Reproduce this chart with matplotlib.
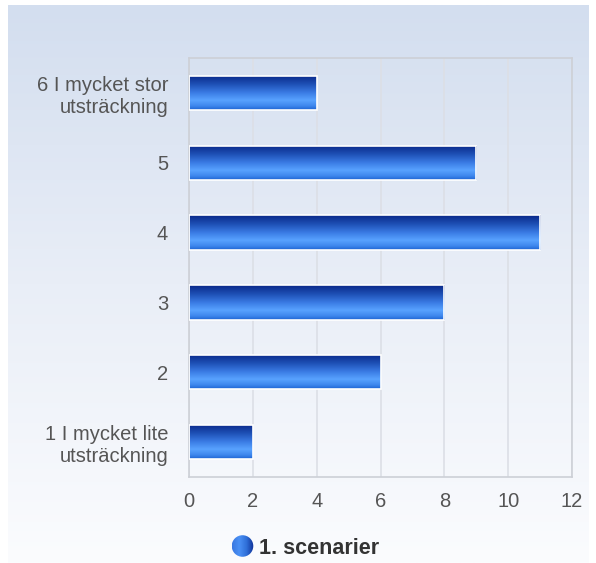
import numpy as np
import matplotlib
matplotlib.use("Agg")
import matplotlib.pyplot as plt
from matplotlib.colors import LinearSegmentedColormap
from matplotlib.patches import Circle

categories = ["1 I mycket lite\nutsträckning", "2", "3", "4", "5", "6 I mycket stor\nutsträckning"]
values = [2, 6, 8, 11, 9, 4]
series_name = "1. scenarier"
xticks = [0, 2, 4, 6, 8, 10, 12]

plt.rcParams['font.family'] = ['Liberation Sans', 'DejaVu Sans']

W, H = 596, 563
fig = plt.figure(figsize=(W / 100, H / 100), dpi=100)
fig.patch.set_facecolor('white')

# background gradient panel
bg = fig.add_axes([8 / W, 0, (589 - 8) / W, (563 - 5) / H])
bg_cmap = LinearSegmentedColormap.from_list('bg', ['#fbfcfe', '#e9eef7', '#d3deef'])
bg.imshow(np.linspace(0, 1, 256).reshape(-1, 1), cmap=bg_cmap, aspect='auto',
          origin='lower', extent=[0, 1, 0, 1])
bg.set_axis_off()

# main axes
left, right, top, bottom = 189, 572, 58, 477
ax = fig.add_axes([left / W, 1 - bottom / H, (right - left) / W, (bottom - top) / H])
ax.patch.set_alpha(0)

ypos = np.arange(len(categories))
bars = ax.barh(ypos, values, height=0.49, facecolor='none', edgecolor='white', linewidth=1.2, zorder=3)

bar_cmap = LinearSegmentedColormap.from_list(
    'bar', [(0.0, '#1d62d2'), (0.12, '#3f88ee'), (0.28, '#58a2ff'), (0.5, '#3a7be4'),
            (0.75, '#1d4fb4'), (1.0, '#0a2888')])
grad = np.linspace(0, 1, 256).reshape(-1, 1)
for b in bars:
    x0, y0 = b.get_x(), b.get_y()
    w, h = b.get_width(), b.get_height()
    im = ax.imshow(grad, cmap=bar_cmap, aspect='auto', origin='lower',
                   extent=[x0, x0 + w, y0, y0 + h], zorder=2)
    im.set_clip_path(b)

ax.set_xlim(0, 12)
ax.set_ylim(-0.5, len(categories) - 0.5)
ax.set_xticks(xticks)
ax.set_yticks(ypos)
ax.set_yticklabels(categories, ha='right', linespacing=1.2)
ax.tick_params(axis='both', length=0, labelsize=14.5, labelcolor='#555555')
ax.tick_params(axis='y', pad=15)
ax.tick_params(axis='x', pad=11)
ax.xaxis.grid(True, color='#dcdfe6', linewidth=1.2, zorder=0)
ax.set_axisbelow(True)
for s in ax.spines.values():
    s.set_color('#cdd0d6')
    s.set_linewidth(1.2)

# legend
cx, cy, r = 242.5, 546, 11
lax = fig.add_axes([(cx - r) / W, 1 - (cy + r) / H, 2 * r / W, 2 * r / H])
lax.set_xlim(0, 1)
lax.set_ylim(0, 1)
lax.set_axis_off()
leg_cmap = LinearSegmentedColormap.from_list('leg', ['#3a78e0', '#4a90f5', '#2f6fd8', '#0f2f95'])
lim = lax.imshow(np.linspace(0, 1, 256).reshape(1, -1), cmap=leg_cmap, aspect='auto',
                 extent=[0, 1, 0, 1])
circ = Circle((0.5, 0.5), 0.49, transform=lax.transData, facecolor='none', edgecolor='none')
lax.add_patch(circ)
lim.set_clip_path(circ)
fig.text(259 / W, 1 - 549 / H, series_name, fontsize=15.5, fontweight='bold',
         color='#333333', va='center', ha='left')

fig.savefig('out.png', dpi=100)
